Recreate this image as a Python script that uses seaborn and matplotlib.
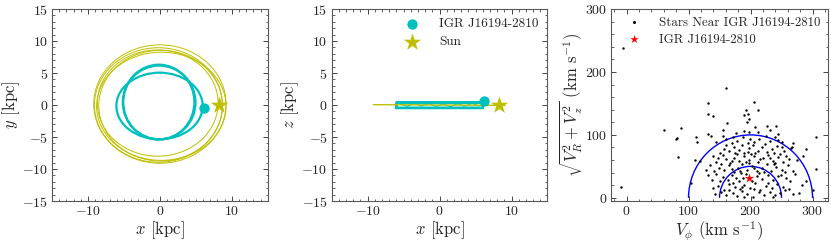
import numpy as np
import pandas as pd
import matplotlib
matplotlib.use("Agg")
import matplotlib.pyplot as plt
from matplotlib.patches import Ellipse, Arc
from matplotlib.ticker import MultipleLocator
import seaborn as sns

# --- orbit of the Sun (x-y), each loop as centre and full axes [kpc]
sun_cx = [0.0, -0.2, 0.1, -0.3, 0.2]
sun_cy = [0.15, 0.0, -0.1, 0.3, -0.2]
sun_w = [18.4, 17.8, 17.2, 16.8, 18.0]
sun_h = [18.5, 17.9, 17.3, 16.6, 16.9]

# --- orbit of IGR J16194-2810 (x-y)
igr_cx = [-0.15, -0.05, -0.1]
igr_cy = [0.45, -0.15, 0.4]
igr_w = [9.9, 12.0, 10.1]
igr_h = [11.7, 10.4, 11.5]

# --- x-z projection
igr_xz_x = [-6.1, 6.0, 6.1, 6.0, -6.0, -6.1, -6.0, 6.0, 5.9, -5.9, -6.0]
igr_xz_z = [-0.5, -0.5, 0.0, 0.45, 0.45, 0.0, -0.4, -0.4, 0.35, 0.35, -0.5]
wave_x = [-5.5, -4.5, -3.5, -2.5, -1.5, -0.5, 0.5, 1.5, 2.5, 3.5, 4.5, 5.5]
wave_z = [0.2, -0.2, 0.25, -0.15, 0.2, -0.2, 0.15, -0.25, 0.2, -0.2, 0.25, -0.15]
sun_xz_x = [-9.2, 9.1]
sun_xz_z = [0.05, -0.05]

igr_pos_xy = (6.1, -0.4)
igr_pos_xz = (6.2, 0.7)
sun_pos = (8.2, 0.0)

# --- velocities of nearby stars: (V_phi, sqrt(V_R^2 + V_z^2)) [km/s]
stars = [
    (143, 6), (152, 9), (160, 4), (171, 8), (178, 3), (186, 11), (195, 6), (204, 2), (213, 9), (222, 5),
    (231, 10), (240, 4), (247, 8), (256, 12), (268, 6), (279, 7), (300, 13), (165, 12), (236, 2), (190, 1),
    (140, 15), (147, 19), (158, 13), (166, 22), (175, 17), (183, 14), (190, 21), (199, 16), (208, 24), (216, 13),
    (225, 19), (234, 15), (243, 22), (252, 17), (262, 14), (283, 21), (-9, 18), (104, 23), (171, 24), (229, 24),
    (205, 14), (186, 18),
    (138, 28), (150, 26), (156, 33), (163, 29), (170, 36), (181, 27), (188, 32), (193, 38), (203, 27), (211, 35),
    (219, 30), (228, 37), (236, 28), (245, 34), (258, 31), (271, 38), (290, 27), (132, 36), (145, 38), (176, 31),
    (214, 39), (249, 37), (264, 26), (184, 39),
    (128, 44), (141, 42), (149, 48), (158, 45), (165, 52), (173, 41), (180, 47), (187, 53), (195, 44), (202, 50),
    (210, 42), (218, 48), (226, 54), (233, 43), (241, 49), (250, 45), (260, 52), (269, 42), (305, 46), (135, 52),
    (152, 54), (170, 46), (198, 55), (222, 41), (238, 53), (255, 41), (206, 47), (183, 43),
    (118, 58), (144, 57), (160, 61), (167, 56), (174, 64), (182, 59), (189, 67), (197, 60), (205, 66), (212, 57),
    (220, 63), (228, 68), (236, 59), (244, 65), (252, 57), (262, 62), (275, 60), (83, 65), (110, 60), (139, 66),
    (147, 63), (155, 68), (178, 69), (193, 57), (201, 69), (216, 61), (232, 64), (248, 69), (257, 66), (285, 67),
    (240, 56), (170, 58),
    (150, 72), (158, 78), (166, 74), (174, 81), (181, 76), (189, 72), (197, 79), (204, 84), (212, 75), (219, 80),
    (227, 73), (235, 78), (243, 83), (254, 74), (266, 79), (290, 78), (186, 84), (208, 71), (223, 86), (238, 71),
    (161, 84), (196, 73), (250, 80), (175, 71),
    (113, 89), (145, 88), (160, 93), (170, 87), (179, 91), (188, 96), (205, 89), (214, 94), (231, 90), (239, 97),
    (250, 88), (268, 87), (80, 93), (81, 95), (112, 97), (137, 99), (155, 99), (172, 97), (199, 94), (225, 99),
    (245, 92), (305, 97), (267, 81), (196, 87),
    (60, 107), (88, 111), (132, 101), (155, 108), (176, 103), (190, 106), (197, 105), (207, 112), (227, 114),
    (232, 107), (241, 114), (162, 119), (195, 120), (212, 104), (245, 102),
    (140, 130), (132, 134), (132, 150), (161, 174), (192, 139), (196, 134), (198, 126), (205, 152), (212, 140),
    (190, 131), (-6, 238),
]
igr_vel = (198, 32)
ring_r = [50, 100]

sns.set_style("ticks")
plt.rcParams["font.family"] = ["serif"]
plt.rcParams["font.serif"] = ["cmr10", "DejaVu Serif"]
plt.rcParams["mathtext.fontset"] = "cm"
plt.rcParams["axes.formatter.use_mathtext"] = True
plt.rcParams["axes.unicode_minus"] = True

fig = plt.figure(figsize=(8.31, 2.42), dpi=100)
ax1 = fig.add_axes([0.0626, 0.1694, 0.2596, 0.7934])
ax2 = fig.add_axes([0.3992, 0.1694, 0.2596, 0.7934])
ax3 = fig.add_axes([0.7353, 0.1694, 0.2611, 0.7934])

cyan = "c"
olive = "y"

# panel 1: x-y
for cx, cy, w, h in zip(sun_cx, sun_cy, sun_w, sun_h):
    ax1.add_patch(Ellipse((cx, cy), w, h, fill=False, ec=olive, lw=0.7))
for cx, cy, w, h in zip(igr_cx, igr_cy, igr_w, igr_h):
    ax1.add_patch(Ellipse((cx, cy), w, h, fill=False, ec=cyan, lw=1.6))
sns.scatterplot(x=[igr_pos_xy[0]], y=[igr_pos_xy[1]], ax=ax1, color=cyan, s=55, linewidth=0, zorder=5)
sns.scatterplot(x=[sun_pos[0]], y=[sun_pos[1]], ax=ax1, color=olive, marker="*", s=170, linewidth=0, zorder=5)
ax1.set_xlabel(r"$x$ [kpc]", fontsize=12, labelpad=1)
ax1.set_ylabel(r"$y$ [kpc]", fontsize=12, labelpad=0)

# panel 2: x-z
ax2.plot(igr_xz_x, igr_xz_z, color=cyan, lw=1.5)
ax2.plot(wave_x, wave_z, color=cyan, lw=0.8)
ax2.plot(sun_xz_x, sun_xz_z, color=olive, lw=1.0)
sns.scatterplot(x=[igr_pos_xz[0]], y=[igr_pos_xz[1]], ax=ax2, color=cyan, s=55, linewidth=0,
                zorder=5, label="IGR J16194-2810")
sns.scatterplot(x=[sun_pos[0]], y=[sun_pos[1]], ax=ax2, color=olive, marker="*", s=170, linewidth=0,
                zorder=5, label="Sun")
ax2.legend(loc="upper right", frameon=False, fontsize=9.5, handletextpad=1.0, borderaxespad=0.3,
           labelspacing=0.4)
ax2.set_xlabel(r"$x$ [kpc]", fontsize=12, labelpad=1)
ax2.set_ylabel(r"$z$ [kpc]", fontsize=12, labelpad=0)

for ax in (ax1, ax2):
    ax.set_xlim(-15, 15)
    ax.set_ylim(-15, 15)
    ax.xaxis.set_major_locator(MultipleLocator(10))
    ax.yaxis.set_major_locator(MultipleLocator(5))
    ax.xaxis.set_minor_locator(MultipleLocator(1))
    ax.yaxis.set_minor_locator(MultipleLocator(1))

# panel 3: velocity diagram
df = pd.DataFrame(stars, columns=["vphi", "vperp"])
for r in ring_r:
    ax3.add_patch(Arc((200, 0), 2 * r, 2 * r, theta1=0, theta2=180, color="b", lw=1.0))
sns.scatterplot(data=df, x="vphi", y="vperp", ax=ax3, color="k", s=3, linewidth=0,
                label="Stars Near IGR J16194-2810")
sns.scatterplot(x=[igr_vel[0]], y=[igr_vel[1]], ax=ax3, color="r", marker="*", s=50, linewidth=0,
                zorder=5, label="IGR J16194-2810")
leg = ax3.legend(loc="upper right", frameon=False, fontsize=9.3, handletextpad=1.1, borderaxespad=0.2,
                 labelspacing=0.35, handlelength=1.6)
leg.legend_handles[0].set_sizes([5])
leg.legend_handles[1].set_sizes([40])
ax3.set_xlim(-25, 325)
ax3.set_ylim(-5, 300)
ax3.xaxis.set_major_locator(MultipleLocator(100))
ax3.yaxis.set_major_locator(MultipleLocator(100))
ax3.xaxis.set_minor_locator(MultipleLocator(20))
ax3.yaxis.set_minor_locator(MultipleLocator(20))
ax3.set_xlabel(r"$V_\phi$ (km s$^{-1}$)", fontsize=12, labelpad=1)
ax3.set_ylabel(r"$\sqrt{V_R^2+V_z^2}$ (km s$^{-1}$)", fontsize=12, labelpad=0)

for ax in (ax1, ax2, ax3):
    ax.tick_params(which="both", direction="in", top=True, right=True, labelsize=10, pad=3)
    ax.tick_params(which="major", length=3.5, width=0.6)
    ax.tick_params(which="minor", length=1.8, width=0.5)
    for sp in ax.spines.values():
        sp.set_linewidth(0.8)
        sp.set_color("0.35")

fig.savefig("out.png", dpi=100)
